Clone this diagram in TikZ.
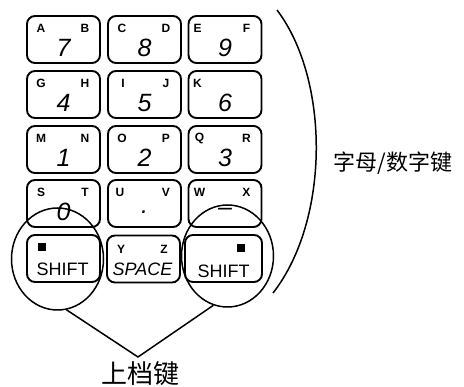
\documentclass[tikz,border=0pt]{standalone}
\usepackage{fontspec}
\setmainfont{Liberation Sans}
\newfontfamily\cjk{Noto Sans CJK SC}
\usetikzlibrary{shapes.geometric,calc}
\begin{document}
\begin{tikzpicture}[x=1pt,y=-1pt,
  keybox/.style={draw, line width=1.9pt, rounded corners=8pt, minimum width=73pt, minimum height=47pt, inner sep=0pt},
  ltr/.style={font=\fontsize{12}{12}\selectfont\bfseries, inner sep=0pt},
  dig/.style={font=\fontsize{25}{25}\selectfont\itshape, inner sep=0pt},
  keylbl/.style={font=\fontsize{18}{18}\selectfont, inner sep=0pt},
  sq/.style={fill, minimum size=7.5pt, inner sep=0pt},
  ring/.style={draw, ellipse, line width=1.5pt, minimum width=92pt, minimum height=102pt, inner sep=0pt},
  leader/.style={line width=1.5pt},
  cjklbl/.style={font=\cjk, inner sep=0pt}]
\useasboundingbox (0,0) rectangle (464,387);
% alphanumeric keys
\foreach \n/\cx/\cy/\li/\l/\r/\d in {
  k7/63.5/39.5/15/A/B/7, k8/144.5/39.5/15/C/D/8, k9/225/39.5/10/E/F/9,
  k4/63.5/94.5/15/G/H/4, k5/144.5/94.5/16/I/J/5, k6/225/94.5/10/K/{}/6,
  k1/63.5/149.5/15/M/N/1, k2/144.5/149.5/15/O/P/2, k3/225/149.5/12/Q/R/3,
  k0/63.5/203.5/15/S/T/0, kd/144.5/203.5/13/U/V/., km/225/203.5/12/W/X/{\textendash}}{
  \node[keybox] (\n) at (\cx,\cy) {};
  \node[ltr] (\n l) at ($(\n.north west)+(\li,13)$) {\l};
  \node[ltr] (\n r) at ($(\n.north east)+(-16,13)$) {\r};
  \node[dig] (\n d) at ($(\n.north)+(0,33)$) {\d};
}
% bottom row
\node[keybox] (ls) at (63.5,258.5) {};
\node[sq] (lsq) at ($(ls.north west)+(16,13)$) {};
\node[keylbl] (lst) at ($(ls.north)+(-1,35)$) {SHIFT};
\node[keybox] (sp) at (143.5,259) {};
\node[ltr] (spy) at ($(sp.north west)+(15,15)$) {Y};
\node[ltr] (spz) at ($(sp.north east)+(-17,15)$) {Z};
\node[keylbl, font=\fontsize{18}{18}\selectfont\itshape] (spt) at ($(sp.north)+(-1,35)$) {SPACE};
\node[keybox, minimum width=77pt] (rs) at (223.5,258.5) {};
\node[sq] (rsq) at ($(rs.north east)+(-22,14)$) {};
\node[keylbl] (rst) at ($(rs.north)+(0,37)$) {SHIFT};
% rings around shift keys
\node[ring] (lc) at (57.5,259) {};
\node[ring] (rc) at (227.5,256) {};
% leader to label
\node[cjklbl, font=\cjk\fontsize{26}{26}\selectfont] (shl) at (140,374) {上档键};
\coordinate (apex) at (138,357);
\draw[leader] (lc.-80) -- (apex) -- (rc.-106);
% big arc for alphanumeric keys
\coordinate (atop) at (277,10);
\coordinate (abot) at (273,293);
\draw[line width=1.5pt] (atop) .. controls (330,80) and (330,220) .. (abot);
\node[cjklbl, font=\cjk\fontsize{22}{22}\selectfont] (anl) at (393,163) {字母/数字键};
\end{tikzpicture}
\end{document}
